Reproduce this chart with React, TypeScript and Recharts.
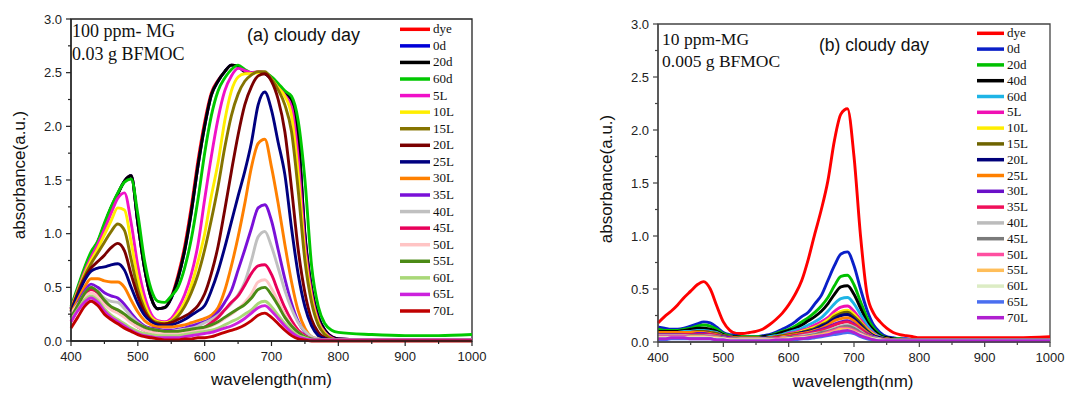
import { LineChart, Line, XAxis, YAxis, ReferenceArea } from 'recharts'

const SANS = '"Liberation Sans", Arial, sans-serif'
const SERIF = '"Liberation Serif", "Times New Roman", serif'

// wavelength (nm) sampling shared by both panels
const wavelengths = [
  400, 410, 420, 430, 440, 450, 460, 470, 480, 490, 500, 510, 520, 530, 540, 550,
  560, 570, 580, 590, 600, 610, 620, 630, 640, 650, 660, 670, 680, 690, 700, 710,
  720, 730, 740, 750, 760, 770, 780, 790, 800, 850, 900, 950, 1000,
]

const xTicks = [400, 450, 500, 550, 600, 650, 700, 750, 800, 850, 900, 950, 1000]
const yTicks = [0, 0.25, 0.5, 0.75, 1, 1.25, 1.5, 1.75, 2, 2.25, 2.5, 2.75, 3]

// ---- (a) 100 ppm MG, 0.03 g BFMOC ----
const aDye = [
  0.30, 0.48, 0.66, 0.81, 0.92, 1.08, 1.24, 1.37, 1.49, 1.54, 1.10, 0.68, 0.40, 0.30, 0.31, 0.41,
  0.61, 0.88, 1.25, 1.68, 2.04, 2.31, 2.43, 2.51, 2.57, 2.56, 2.51, 2.50, 2.50, 2.49, 2.44, 2.37, 2.31, 2.25, 1.90, 0.98, 0.48, 0.22, 0.10, 0.04, 0.02,
  0.01, 0.01, 0.01, 0.01,
]
const a0d = [
  0.30, 0.48, 0.66, 0.81, 0.92, 1.08, 1.24, 1.37, 1.49, 1.54, 1.10, 0.68, 0.40, 0.30, 0.31, 0.40,
  0.58, 0.84, 1.20, 1.63, 2.00, 2.29, 2.42, 2.51, 2.57, 2.56, 2.51, 2.50, 2.50, 2.49, 2.44, 2.37, 2.31, 2.25, 1.92, 1.00, 0.49, 0.23, 0.10, 0.04, 0.02,
  0.01, 0.01, 0.01, 0.01,
]
const a20d = [
  0.30, 0.48, 0.66, 0.81, 0.92, 1.08, 1.24, 1.37, 1.49, 1.54, 1.10, 0.68, 0.40, 0.30, 0.31, 0.40,
  0.58, 0.84, 1.20, 1.63, 2.00, 2.29, 2.42, 2.51, 2.57, 2.56, 2.51, 2.50, 2.50, 2.49, 2.44, 2.37, 2.31, 2.25, 1.90, 0.98, 0.48, 0.22, 0.10, 0.04, 0.02,
  0.01, 0.01, 0.01, 0.01,
]
const a60d = [
  0.32, 0.50, 0.68, 0.83, 0.93, 1.10, 1.25, 1.38, 1.48, 1.51, 1.18, 0.75, 0.48, 0.37, 0.36, 0.42,
  0.50, 0.68, 0.95, 1.32, 1.75, 2.10, 2.33, 2.45, 2.53, 2.57, 2.53, 2.50, 2.50, 2.50, 2.46, 2.40, 2.33, 2.28, 2.05, 1.50, 0.70, 0.32, 0.16, 0.10, 0.08,
  0.06, 0.05, 0.05, 0.06,
]
const a5L = [
  0.30, 0.47, 0.64, 0.78, 0.90, 1.04, 1.19, 1.33, 1.38, 1.10, 0.70, 0.42, 0.25, 0.19, 0.18, 0.21,
  0.30, 0.43, 0.62, 0.90, 1.32, 1.72, 2.07, 2.33, 2.47, 2.54, 2.52, 2.50, 2.51, 2.50, 2.44, 2.36, 2.29, 2.18, 1.70, 0.90, 0.44, 0.19, 0.08, 0.03, 0.01,
  0.01, 0.01, 0.01, 0.01,
]
const a10L = [
  0.29, 0.46, 0.62, 0.75, 0.86, 0.99, 1.12, 1.24, 1.22, 0.92, 0.58, 0.35, 0.22, 0.18, 0.17, 0.19,
  0.26, 0.36, 0.52, 0.74, 1.00, 1.35, 1.66, 2.05, 2.33, 2.46, 2.49, 2.49, 2.50, 2.50, 2.44, 2.36, 2.28, 2.10, 1.55, 0.82, 0.40, 0.17, 0.07, 0.02, 0.01,
  0.01, 0.01, 0.01, 0.01,
]
const a15L = [
  0.28, 0.45, 0.60, 0.72, 0.82, 0.92, 1.02, 1.09, 1.03, 0.76, 0.48, 0.30, 0.20, 0.17, 0.16, 0.18,
  0.23, 0.32, 0.45, 0.62, 0.85, 1.13, 1.44, 1.80, 2.10, 2.30, 2.42, 2.48, 2.51, 2.51, 2.44, 2.34, 2.20, 1.95, 1.40, 0.75, 0.36, 0.15, 0.06, 0.02, 0.01,
  0.01, 0.01, 0.01, 0.01,
]
const a20L = [
  0.28, 0.44, 0.58, 0.68, 0.74, 0.80, 0.87, 0.91, 0.84, 0.62, 0.42, 0.27, 0.19, 0.16, 0.16, 0.17,
  0.20, 0.23, 0.27, 0.33, 0.44, 0.63, 0.88, 1.22, 1.58, 1.92, 2.20, 2.37, 2.47, 2.49, 2.42, 2.25, 1.95, 1.42, 0.85, 0.45, 0.20, 0.08, 0.03, 0.01, 0.01,
  0.01, 0.01, 0.01, 0.01,
]
const a25L = [
  0.27, 0.42, 0.56, 0.65, 0.68, 0.69, 0.71, 0.72, 0.66, 0.50, 0.35, 0.24, 0.18, 0.15, 0.14, 0.15,
  0.17, 0.20, 0.24, 0.28, 0.33, 0.47, 0.65, 0.87, 1.11, 1.35, 1.58, 1.85, 2.20, 2.32, 2.15, 1.85, 1.55, 1.05, 0.62, 0.32, 0.14, 0.05, 0.02, 0.01, 0.01,
  0.01, 0.01, 0.01, 0.01,
]
const a30L = [
  0.25, 0.38, 0.50, 0.58, 0.58, 0.56, 0.55, 0.55, 0.50, 0.38, 0.27, 0.19, 0.15, 0.13, 0.13, 0.13,
  0.14, 0.15, 0.17, 0.19, 0.21, 0.24, 0.31, 0.47, 0.70, 0.97, 1.28, 1.62, 1.84, 1.88, 1.62, 1.28, 0.90, 0.55, 0.28, 0.12, 0.04, 0.02, 0.01, 0.01, 0.01,
  0.01, 0.01, 0.01, 0.01,
]
const a35L = [
  0.22, 0.35, 0.46, 0.53, 0.50, 0.45, 0.42, 0.40, 0.34, 0.26, 0.19, 0.14, 0.12, 0.11, 0.10, 0.10,
  0.11, 0.12, 0.14, 0.16, 0.18, 0.21, 0.27, 0.36, 0.47, 0.66, 0.85, 1.05, 1.24, 1.27, 1.12, 0.85, 0.58, 0.35, 0.18, 0.08, 0.03, 0.01, 0.01, 0.01, 0.01,
  0.01, 0.01, 0.01, 0.01,
]
const a40L = [
  0.22, 0.33, 0.44, 0.50, 0.46, 0.40, 0.37, 0.36, 0.30, 0.23, 0.17, 0.13, 0.11, 0.10, 0.09, 0.09,
  0.10, 0.11, 0.12, 0.14, 0.17, 0.20, 0.24, 0.29, 0.35, 0.43, 0.55, 0.75, 0.97, 1.02, 0.88, 0.68, 0.47, 0.30, 0.17, 0.09, 0.04, 0.02, 0.01, 0.01, 0.01,
  0.01, 0.01, 0.01, 0.01,
]
const a45L = [
  0.18, 0.30, 0.42, 0.48, 0.45, 0.36, 0.31, 0.28, 0.24, 0.18, 0.13, 0.10, 0.08, 0.07, 0.06, 0.06,
  0.07, 0.08, 0.09, 0.11, 0.13, 0.17, 0.22, 0.29, 0.36, 0.42, 0.52, 0.63, 0.70, 0.71, 0.62, 0.46, 0.31, 0.19, 0.10, 0.05, 0.02, 0.01, 0.01, 0.01, 0.01,
  0.01, 0.01, 0.01, 0.01,
]
const a50L = [
  0.25, 0.34, 0.41, 0.45, 0.41, 0.34, 0.29, 0.26, 0.22, 0.17, 0.13, 0.10, 0.08, 0.07, 0.07, 0.07,
  0.07, 0.08, 0.09, 0.10, 0.12, 0.14, 0.17, 0.21, 0.25, 0.30, 0.36, 0.44, 0.55, 0.57, 0.49, 0.37, 0.25, 0.15, 0.08, 0.04, 0.02, 0.01, 0.01, 0.01, 0.01,
  0.01, 0.01, 0.01, 0.01,
]
const a55L = [
  0.22, 0.33, 0.44, 0.50, 0.46, 0.38, 0.32, 0.29, 0.25, 0.20, 0.16, 0.13, 0.11, 0.10, 0.09, 0.09,
  0.09, 0.10, 0.11, 0.12, 0.13, 0.15, 0.18, 0.22, 0.26, 0.30, 0.34, 0.40, 0.48, 0.50, 0.43, 0.33, 0.22, 0.14, 0.08, 0.04, 0.02, 0.01, 0.01, 0.01, 0.01,
  0.01, 0.01, 0.01, 0.01,
]
const a60L = [
  0.20, 0.29, 0.38, 0.42, 0.38, 0.30, 0.24, 0.20, 0.16, 0.12, 0.09, 0.07, 0.06, 0.05, 0.05, 0.05,
  0.05, 0.06, 0.07, 0.08, 0.09, 0.10, 0.12, 0.15, 0.18, 0.21, 0.25, 0.29, 0.35, 0.37, 0.32, 0.24, 0.16, 0.10, 0.05, 0.03, 0.01, 0.01, 0.01, 0.01, 0.01,
  0.01, 0.01, 0.01, 0.01,
]
const a65L = [
  0.18, 0.28, 0.36, 0.40, 0.36, 0.28, 0.22, 0.18, 0.14, 0.10, 0.07, 0.05, 0.04, 0.03, 0.03, 0.03,
  0.03, 0.04, 0.05, 0.06, 0.07, 0.08, 0.10, 0.12, 0.14, 0.17, 0.21, 0.26, 0.31, 0.33, 0.28, 0.21, 0.14, 0.08, 0.04, 0.02, 0.01, 0.01, 0.01, 0.01, 0.01,
  0.01, 0.01, 0.01, 0.01,
]
const a70L = [
  0.12, 0.22, 0.32, 0.37, 0.33, 0.25, 0.20, 0.16, 0.12, 0.09, 0.06, 0.04, 0.03, 0.02, 0.01, 0.01,
  0.01, 0.02, 0.02, 0.03, 0.03, 0.04, 0.06, 0.08, 0.10, 0.12, 0.15, 0.19, 0.24, 0.26, 0.22, 0.16, 0.10, 0.05, 0.02, 0.01, 0.00, 0.00, 0.00, 0.00, 0.00,
  0.00, 0.00, 0.00, 0.00,
]

// ---- (b) 10 ppm MG, 0.005 g BFMOC ----
const bDye = [
  0.18, 0.24, 0.29, 0.35, 0.42, 0.48, 0.54, 0.57, 0.50, 0.34, 0.19, 0.11, 0.08, 0.08, 0.09, 0.10,
  0.12, 0.16, 0.21, 0.27, 0.35, 0.45, 0.58, 0.78, 1.02, 1.25, 1.52, 1.90, 2.15, 2.20, 1.75, 1.00, 0.45, 0.27, 0.19, 0.13, 0.09, 0.07, 0.06, 0.05, 0.04,
  0.04, 0.04, 0.04, 0.05,
]
const b0d = [
  0.14, 0.13, 0.12, 0.12, 0.13, 0.15, 0.17, 0.19, 0.18, 0.14, 0.09, 0.07, 0.06, 0.05, 0.05, 0.05,
  0.06, 0.07, 0.09, 0.12, 0.15, 0.19, 0.24, 0.28, 0.36, 0.44, 0.58, 0.72, 0.83, 0.85, 0.72, 0.50, 0.30, 0.16, 0.09, 0.05, 0.04, 0.03, 0.03, 0.02, 0.02,
  0.02, 0.02, 0.02, 0.02,
]
const b20d = [
  0.12, 0.11, 0.11, 0.11, 0.12, 0.13, 0.15, 0.16, 0.15, 0.12, 0.08, 0.06, 0.05, 0.05, 0.05, 0.05,
  0.05, 0.06, 0.08, 0.10, 0.12, 0.15, 0.19, 0.23, 0.28, 0.34, 0.42, 0.53, 0.62, 0.63, 0.54, 0.38, 0.23, 0.13, 0.07, 0.04, 0.03, 0.03, 0.02, 0.02, 0.02,
  0.02, 0.02, 0.02, 0.02,
]
const b40d = [
  0.10, 0.10, 0.10, 0.10, 0.11, 0.12, 0.13, 0.13, 0.12, 0.10, 0.07, 0.05, 0.05, 0.04, 0.04, 0.04,
  0.05, 0.06, 0.07, 0.09, 0.11, 0.13, 0.16, 0.20, 0.24, 0.29, 0.36, 0.45, 0.52, 0.53, 0.45, 0.32, 0.19, 0.11, 0.06, 0.04, 0.03, 0.02, 0.02, 0.02, 0.02,
  0.02, 0.02, 0.02, 0.02,
]
const b60d = [
  0.09, 0.09, 0.09, 0.09, 0.10, 0.10, 0.11, 0.11, 0.10, 0.09, 0.06, 0.05, 0.04, 0.04, 0.04, 0.04,
  0.04, 0.05, 0.06, 0.07, 0.09, 0.11, 0.13, 0.16, 0.19, 0.23, 0.29, 0.36, 0.41, 0.42, 0.36, 0.26, 0.16, 0.09, 0.05, 0.03, 0.02, 0.02, 0.02, 0.02, 0.02,
  0.02, 0.02, 0.02, 0.02,
]
const b5L = [
  0.08, 0.08, 0.08, 0.08, 0.09, 0.09, 0.10, 0.10, 0.09, 0.08, 0.06, 0.05, 0.04, 0.04, 0.04, 0.04,
  0.04, 0.04, 0.05, 0.06, 0.08, 0.09, 0.11, 0.13, 0.16, 0.19, 0.23, 0.29, 0.33, 0.34, 0.29, 0.21, 0.13, 0.08, 0.04, 0.03, 0.02, 0.02, 0.02, 0.02, 0.02,
  0.02, 0.02, 0.02, 0.02,
]
const b10L = [
  0.08, 0.08, 0.08, 0.08, 0.08, 0.09, 0.09, 0.09, 0.09, 0.07, 0.05, 0.04, 0.04, 0.04, 0.04, 0.04,
  0.04, 0.04, 0.05, 0.06, 0.07, 0.08, 0.10, 0.12, 0.14, 0.17, 0.21, 0.26, 0.29, 0.30, 0.26, 0.19, 0.12, 0.07, 0.04, 0.03, 0.02, 0.02, 0.02, 0.02, 0.02,
  0.02, 0.02, 0.02, 0.02,
]
const b15L = [
  0.09, 0.09, 0.09, 0.09, 0.09, 0.09, 0.10, 0.10, 0.09, 0.08, 0.06, 0.05, 0.04, 0.04, 0.04, 0.04,
  0.04, 0.04, 0.05, 0.06, 0.07, 0.08, 0.09, 0.11, 0.13, 0.16, 0.19, 0.24, 0.27, 0.28, 0.24, 0.18, 0.11, 0.06, 0.04, 0.03, 0.02, 0.02, 0.02, 0.02, 0.02,
  0.02, 0.02, 0.02, 0.02,
]
const b20L = [
  0.08, 0.08, 0.08, 0.08, 0.08, 0.08, 0.09, 0.09, 0.08, 0.07, 0.05, 0.04, 0.04, 0.03, 0.03, 0.03,
  0.04, 0.04, 0.04, 0.05, 0.06, 0.07, 0.09, 0.10, 0.12, 0.15, 0.18, 0.22, 0.25, 0.26, 0.22, 0.16, 0.10, 0.06, 0.04, 0.02, 0.02, 0.02, 0.02, 0.02, 0.02,
  0.02, 0.02, 0.02, 0.02,
]
const b25L = [
  0.09, 0.09, 0.09, 0.09, 0.09, 0.09, 0.09, 0.09, 0.08, 0.07, 0.05, 0.04, 0.04, 0.03, 0.03, 0.03,
  0.03, 0.04, 0.04, 0.05, 0.06, 0.07, 0.08, 0.09, 0.11, 0.13, 0.16, 0.20, 0.22, 0.23, 0.20, 0.14, 0.09, 0.05, 0.03, 0.02, 0.02, 0.02, 0.02, 0.02, 0.02,
  0.02, 0.02, 0.02, 0.02,
]
const b30L = [
  0.07, 0.07, 0.07, 0.07, 0.07, 0.07, 0.08, 0.08, 0.07, 0.06, 0.05, 0.04, 0.03, 0.03, 0.03, 0.03,
  0.03, 0.03, 0.04, 0.04, 0.05, 0.06, 0.07, 0.08, 0.10, 0.12, 0.14, 0.17, 0.19, 0.20, 0.17, 0.12, 0.08, 0.05, 0.03, 0.02, 0.02, 0.02, 0.02, 0.02, 0.02,
  0.02, 0.02, 0.02, 0.02,
]
const b35L = [
  0.06, 0.06, 0.06, 0.06, 0.07, 0.07, 0.07, 0.07, 0.07, 0.06, 0.04, 0.03, 0.03, 0.03, 0.03, 0.03,
  0.03, 0.03, 0.04, 0.04, 0.05, 0.06, 0.07, 0.08, 0.09, 0.11, 0.13, 0.16, 0.18, 0.19, 0.16, 0.12, 0.07, 0.04, 0.03, 0.02, 0.02, 0.02, 0.02, 0.02, 0.02,
  0.02, 0.02, 0.02, 0.02,
]
const b40L = [
  0.06, 0.06, 0.06, 0.06, 0.06, 0.06, 0.06, 0.06, 0.06, 0.05, 0.04, 0.03, 0.03, 0.03, 0.03, 0.03,
  0.03, 0.03, 0.03, 0.04, 0.04, 0.05, 0.06, 0.07, 0.08, 0.09, 0.11, 0.13, 0.15, 0.16, 0.14, 0.10, 0.06, 0.04, 0.03, 0.02, 0.02, 0.02, 0.02, 0.02, 0.02,
  0.02, 0.02, 0.02, 0.02,
]
const b45L = [
  0.05, 0.05, 0.05, 0.05, 0.05, 0.06, 0.06, 0.06, 0.05, 0.05, 0.04, 0.03, 0.03, 0.02, 0.02, 0.02,
  0.02, 0.03, 0.03, 0.03, 0.04, 0.05, 0.05, 0.06, 0.07, 0.09, 0.10, 0.12, 0.14, 0.15, 0.13, 0.09, 0.06, 0.04, 0.02, 0.02, 0.02, 0.02, 0.02, 0.02, 0.02,
  0.02, 0.02, 0.02, 0.02,
]
const b50L = [
  0.05, 0.05, 0.05, 0.05, 0.05, 0.05, 0.05, 0.05, 0.05, 0.04, 0.03, 0.03, 0.02, 0.02, 0.02, 0.02,
  0.02, 0.02, 0.03, 0.03, 0.03, 0.04, 0.05, 0.05, 0.06, 0.07, 0.09, 0.11, 0.13, 0.13, 0.11, 0.08, 0.05, 0.03, 0.02, 0.02, 0.01, 0.01, 0.01, 0.01, 0.01,
  0.01, 0.01, 0.01, 0.01,
]
const b55L = [
  0.04, 0.04, 0.04, 0.04, 0.04, 0.05, 0.05, 0.05, 0.04, 0.04, 0.03, 0.02, 0.02, 0.02, 0.02, 0.02,
  0.02, 0.02, 0.02, 0.03, 0.03, 0.04, 0.04, 0.05, 0.06, 0.07, 0.08, 0.10, 0.12, 0.12, 0.10, 0.07, 0.05, 0.03, 0.02, 0.01, 0.01, 0.01, 0.01, 0.01, 0.01,
  0.01, 0.01, 0.01, 0.01,
]
const b60L = [
  0.04, 0.04, 0.04, 0.04, 0.04, 0.04, 0.04, 0.04, 0.04, 0.03, 0.03, 0.02, 0.02, 0.02, 0.02, 0.02,
  0.02, 0.02, 0.02, 0.02, 0.03, 0.03, 0.04, 0.04, 0.05, 0.06, 0.07, 0.09, 0.10, 0.11, 0.09, 0.07, 0.04, 0.03, 0.02, 0.01, 0.01, 0.01, 0.01, 0.01, 0.01,
  0.01, 0.01, 0.01, 0.01,
]
const b65L = [
  0.02, 0.02, 0.03, 0.03, 0.03, 0.03, 0.03, 0.03, 0.03, 0.02, 0.02, 0.01, 0.01, 0.01, 0.01, 0.01,
  0.01, 0.01, 0.01, 0.02, 0.02, 0.02, 0.03, 0.03, 0.04, 0.05, 0.06, 0.07, 0.08, 0.09, 0.08, 0.05, 0.03, 0.02, 0.01, 0.01, 0.01, 0.01, 0.01, 0.01, 0.01,
  0.01, 0.01, 0.01, 0.01,
]
const b70L = [
  0.03, 0.03, 0.04, 0.04, 0.04, 0.03, 0.03, 0.03, 0.03, 0.02, 0.02, 0.01, 0.01, 0.01, 0.01, 0.01,
  0.01, 0.01, 0.02, 0.02, 0.02, 0.03, 0.03, 0.04, 0.05, 0.06, 0.07, 0.09, 0.10, 0.11, 0.09, 0.06, 0.04, 0.02, 0.01, 0.01, 0.01, 0.01, 0.01, 0.01, 0.01,
  0.01, 0.01, 0.01, 0.01,
]

interface Series {
  key: string
  name: string
  color: string
  values: number[]
}

const leftSeries: Series[] = [
  { key: 'dye', name: 'dye', color: '#ff0000', values: aDye },
  { key: 'd0', name: '0d', color: '#0000d8', values: a0d },
  { key: 'd20', name: '20d', color: '#000000', values: a20d },
  { key: 'd60', name: '60d', color: '#00c800', values: a60d },
  { key: 'l5', name: '5L', color: '#f010c8', values: a5L },
  { key: 'l10', name: '10L', color: '#ffee00', values: a10L },
  { key: 'l15', name: '15L', color: '#857400', values: a15L },
  { key: 'l20', name: '20L', color: '#7a0000', values: a20L },
  { key: 'l25', name: '25L', color: '#000080', values: a25L },
  { key: 'l30', name: '30L', color: '#ff8000', values: a30L },
  { key: 'l35', name: '35L', color: '#7a10d8', values: a35L },
  { key: 'l40', name: '40L', color: '#c0c0c0', values: a40L },
  { key: 'l45', name: '45L', color: '#e8005a', values: a45L },
  { key: 'l50', name: '50L', color: '#ffc4c4', values: a50L },
  { key: 'l55', name: '55L', color: '#4b8a16', values: a55L },
  { key: 'l60', name: '60L', color: '#a9d878', values: a60L },
  { key: 'l65', name: '65L', color: '#cc22dd', values: a65L },
  { key: 'l70', name: '70L', color: '#c00000', values: a70L },
]

const rightSeries: Series[] = [
  { key: 'dye', name: 'dye', color: '#ff0000', values: bDye },
  { key: 'd0', name: '0d', color: '#0a1fc8', values: b0d },
  { key: 'd20', name: '20d', color: '#00c000', values: b20d },
  { key: 'd40', name: '40d', color: '#000000', values: b40d },
  { key: 'd60', name: '60d', color: '#1eb4e6', values: b60d },
  { key: 'l5', name: '5L', color: '#f010b4', values: b5L },
  { key: 'l10', name: '10L', color: '#ffee00', values: b10L },
  { key: 'l15', name: '15L', color: '#6e6400', values: b15L },
  { key: 'l20', name: '20L', color: '#00007a', values: b20L },
  { key: 'l25', name: '25L', color: '#ff8000', values: b25L },
  { key: 'l30', name: '30L', color: '#6a10c8', values: b30L },
  { key: 'l35', name: '35L', color: '#f0105a', values: b35L },
  { key: 'l40', name: '40L', color: '#bcbcbc', values: b40L },
  { key: 'l45', name: '45L', color: '#7a7a7a', values: b45L },
  { key: 'l50', name: '50L', color: '#ff4fa0', values: b50L },
  { key: 'l55', name: '55L', color: '#ffbe5a', values: b55L },
  { key: 'l60', name: '60L', color: '#dcecc4', values: b60L },
  { key: 'l65', name: '65L', color: '#4a6ef0', values: b65L },
  { key: 'l70', name: '70L', color: '#b020d0', values: b70L },
]

function buildRows(series: Series[]) {
  return wavelengths.map((w, i) => {
    const row: Record<string, number> = { w }
    series.forEach((s) => {
      row[s.key] = s.values[i]
    })
    return row
  })
}

const leftRows = buildRows(leftSeries)
const rightRows = buildRows(rightSeries)

function XTick({ x, y, payload, color }: any) {
  const v = payload.value
  const major = v % 100 === 0
  return (
    <g>
      <line x1={x} y1={y} x2={x} y2={y + (major ? 5 : 3)} stroke={color} strokeWidth={1.2} />
      {major && (
        <text x={x} y={y + 20} textAnchor="middle" fontSize={13} fill="#222" fontFamily={SANS}>
          {v}
        </text>
      )}
    </g>
  )
}

function YTick({ x, y, payload, color }: any) {
  const v = payload.value
  const major = Math.abs(v * 2 - Math.round(v * 2)) < 1e-6
  return (
    <g>
      <line x1={x - (major ? 5 : 3)} y1={y} x2={x} y2={y} stroke={color} strokeWidth={1.2} />
      {major && (
        <text x={x - 9} y={y + 4.5} textAnchor="end" fontSize={13} fill="#222" fontFamily={SANS}>
          {v.toFixed(1)}
        </text>
      )}
    </g>
  )
}

interface PanelProps {
  rows: Record<string, number>[]
  series: Series[]
  width: number
  top: number
  right: number
  yAxisWidth: number
  xAxisHeight: number
  axisColor: string
}

function Panel({ rows, series, width, top, right, yAxisWidth, xAxisHeight, axisColor }: PanelProps) {
  return (
    <LineChart width={width} height={393} data={rows} margin={{ top, right, bottom: 0, left: 0 }}>
      <XAxis
        dataKey="w"
        type="number"
        domain={[400, 1000]}
        ticks={xTicks}
        interval={0}
        tickLine={false}
        tickSize={0}
        tickMargin={0}
        height={xAxisHeight}
        stroke={axisColor}
        strokeWidth={1.3}
        tick={(p: any) => <XTick {...p} color={axisColor} />}
      />
      <YAxis
        type="number"
        domain={[0, 3]}
        ticks={yTicks}
        interval={0}
        tickLine={false}
        tickSize={0}
        tickMargin={0}
        width={yAxisWidth}
        stroke={axisColor}
        strokeWidth={1.3}
        tick={(p: any) => <YTick {...p} color={axisColor} />}
      />
      <ReferenceArea
        x1={400}
        x2={1000}
        y1={0}
        y2={3}
        fill="none"
        stroke={axisColor}
        strokeWidth={1.3}
        ifOverflow="visible"
      />
      {series.map((s) => (
        <Line
          key={s.key}
          dataKey={s.key}
          name={s.name}
          type="monotone"
          stroke={s.color}
          strokeWidth={2.9}
          dot={false}
          isAnimationActive={false}
        />
      ))}
    </LineChart>
  )
}

function LegendBlock({ series, x1, x2, top, step }: { series: Series[]; x1: number; x2: number; top: number; step: number }) {
  return (
    <g>
      {series.map((s, i) => {
        const y = top + i * step
        return (
          <g key={s.key}>
            <line x1={x1} y1={y} x2={x2} y2={y} stroke={s.color} strokeWidth={3.5} />
            <text x={x2 + 3} y={y + 4} fontSize={13} fontFamily={SERIF} fill="#111">
              {s.name}
            </text>
          </g>
        )
      })}
    </g>
  )
}

export default function App() {
  return (
    <div style={{ position: 'absolute', left: 0, top: 0, width: 1071, height: 393, background: '#fff' }}>
      <div style={{ position: 'absolute', left: 0, top: 0 }}>
        <Panel rows={leftRows} series={leftSeries} width={530} top={19} right={58} yAxisWidth={71} xAxisHeight={52} axisColor="#222" />
      </div>
      <div style={{ position: 'absolute', left: 540, top: 0 }}>
        <Panel rows={rightRows} series={rightSeries} width={531} top={24} right={21} yAxisWidth={118} xAxisHeight={51} axisColor="#444" />
      </div>
      <svg width={1071} height={393} style={{ position: 'absolute', left: 0, top: 0, pointerEvents: 'none' }}>
        {/* panel (a) */}
        <text x={72} y={36.5} fontSize={18} fontFamily={SERIF} fill="#111">100 ppm- MG</text>
        <text x={72} y={59.5} fontSize={18} fontFamily={SERIF} fill="#111">0.03 g BFMOC</text>
        <text x={247} y={41} fontSize={18} fontFamily={SANS} fill="#111">(a) cloudy day</text>
        <LegendBlock series={leftSeries} x1={400} x2={430} top={29.3} step={16.57} />
        <text x={271.5} y={385} textAnchor="middle" fontSize={17} fontFamily={SANS} fill="#111">wavelength(nm)</text>
        <text x={25} y={175} transform="rotate(-90 25 175)" textAnchor="middle" fontSize={17} fontFamily={SANS} fill="#111">absorbance(a.u.)</text>

        {/* panel (b) */}
        <text x={662} y={45} fontSize={17.5} fontFamily={SERIF} fill="#111">10 ppm-MG</text>
        <text x={662} y={66.5} fontSize={17.5} fontFamily={SERIF} fill="#111">0.005 g BFMOC</text>
        <text x={819} y={51} fontSize={17.5} fontFamily={SANS} fill="#111">(b) cloudy day</text>
        <LegendBlock series={rightSeries} x1={977} x2={1004} top={33.3} step={15.8} />
        <text x={853} y={387} textAnchor="middle" fontSize={17} fontFamily={SANS} fill="#111">wavelength(nm)</text>
        <text x={612} y={179} transform="rotate(-90 612 179)" textAnchor="middle" fontSize={17} fontFamily={SANS} fill="#111">absorbance(a.u.)</text>
      </svg>
    </div>
  )
}
